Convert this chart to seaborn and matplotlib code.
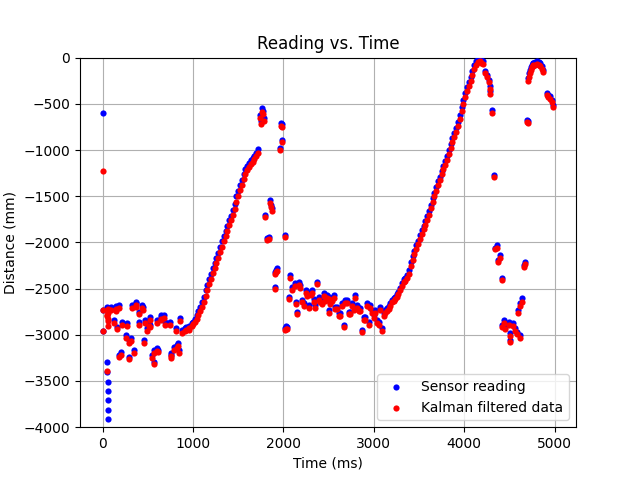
import numpy as np
import pandas as pd
import matplotlib
matplotlib.use("Agg")
import matplotlib.pyplot as plt
import seaborn as sns

# --- start transient ---
t_a = [0, 5, 10, 48, 52, 54, 56, 58, 60, 62, 64]
s_a = [-600, -2730, -2960, -2700, -3295, -3400, -3510, -3610, -3710, -3815, -3910]
k_a = [-1225, -2730, -2960, -2785, -2800, -3390, -2760, -2830, -2720, -2900, -2850]

# --- first plateau ---
t_b = [88, 125, 144, 150, 162, 180, 182, 199, 218, 254, 273, 291, 293, 310, 328, 346, 365, 372, 401, 403,
       438, 445, 457, 475, 493, 512, 520, 530, 549, 567, 569, 604, 606, 612, 641, 650, 677, 696, 751, 753,
       760, 788, 807, 825, 830, 843, 862, 880, 917, 925, 953, 960, 991]
s_b = [-2695, -2840, -2713, -2690, -2912, -2677, -3219, -3183, -2858, -3003, -2876, -3057, -3237, -3035, -2677, -3165, -2641, -2660, -2750, -2858,
       -2677, -2700, -3057, -2840, -2930, -2876, -2890, -2804, -3219, -3165, -3292, -2840, -3147, -3160, -2804, -2790, -2786, -2858, -2858, -3219,
       -3200, -3129, -2930, -3111, -3090, -3165, -2822, -2948, -2930, -2920, -2912, -2900, -2876]
k_b = [-2730, -2870, -2745, -2725, -2940, -2710, -3245, -3215, -2890, -3035, -2905, -3090, -3265, -3065, -2710, -3195, -2675, -2695, -2780, -2890,
       -2710, -2735, -3085, -2870, -2960, -2905, -2920, -2835, -3250, -3195, -3320, -2870, -3180, -3190, -2835, -2825, -2815, -2890, -2890, -3250,
       -3230, -3160, -2960, -3140, -3120, -3195, -2855, -2980, -2960, -2950, -2945, -2930, -2905]

# --- first rise ---
t_c = [1000, 1020, 1040, 1060, 1080, 1100, 1120, 1140, 1160, 1180, 1200, 1220, 1240, 1260, 1280, 1300, 1320, 1340, 1360,
       1380, 1400, 1420, 1440, 1460, 1480, 1500, 1520, 1540, 1560, 1580, 1600, 1620, 1640, 1660, 1680, 1700, 1720]
s_c = [-2860, -2830, -2790, -2740, -2700, -2650, -2590, -2520, -2460, -2400, -2340, -2280, -2220, -2170, -2110, -2050, -1990, -1930, -1880,
       -1820, -1760, -1710, -1650, -1580, -1500, -1440, -1380, -1320, -1260, -1210, -1170, -1140, -1110, -1090, -1060, -1030, -990]
k_c = [-2880, -2860, -2830, -2790, -2745, -2700, -2640, -2575, -2515, -2455, -2395, -2335, -2275, -2220, -2165, -2105, -2045, -1985, -1930,
       -1875, -1815, -1760, -1705, -1640, -1565, -1495, -1435, -1375, -1315, -1260, -1215, -1180, -1150, -1125, -1095, -1065, -1030]

# --- scattered readings near 2000 ms ---
t_d = [1746, 1755, 1764, 1775, 1782, 1801, 1819, 1838, 1856, 1866, 1875, 1904, 1912, 1922, 1930, 1967, 1978, 1985, 1990, 2014, 2022, 2030]
s_d = [-618, -690, -545, -580, -654, -1702, -1955, -1937, -1540, -1590, -1630, -2479, -2316, -2298, -2280, -979, -708, -889, -720, -1919, -2930, -2910]
k_d = [-650, -720, -590, -615, -690, -1725, -1975, -1960, -1575, -1620, -1660, -2500, -2340, -2320, -2310, -1005, -740, -915, -750, -1940, -2950, -2935]

# --- second plateau ---
t_e = [2040, 2059, 2077, 2100, 2133, 2140, 2151, 2170, 2188, 2205, 2224, 2245, 2262, 2280, 2300, 2317, 2335, 2354, 2372, 2390,
       2409, 2427, 2445, 2465, 2483, 2501, 2505, 2520, 2538, 2556, 2575, 2593, 2611, 2630, 2648, 2667, 2685, 2704, 2722, 2740,
       2759, 2778, 2796, 2814, 2832, 2851, 2869, 2887, 2906, 2924, 2942, 2961, 2980, 2998, 3017, 3035, 3053, 3072, 3090, 3108,
       3127, 3146, 3164, 3182, 3200, 3220, 3238, 3255, 3273, 3290, 3311]
s_e = [-2912, -2587, -2352, -2480, -2443, -2641, -2750, -2430, -2461, -2620, -2659, -2520, -2551, -2677, -2540, -2515, -2610, -2677, -2425, -2590,
       -2623, -2640, -2551, -2600, -2569, -2587, -2732, -2640, -2605, -2569, -2695, -2695, -2767, -2768, -2660, -2894, -2623, -2623, -2750, -2750,
       -2659, -2700, -2569, -2677, -2713, -2713, -2948, -2804, -2804, -2659, -2858, -2677, -2732, -2790, -2732, -2840, -2858, -2700, -2930, -2767,
       -2730, -2713, -2690, -2659, -2620, -2600, -2587, -2560, -2533, -2490, -2442]
k_e = [-2940, -2615, -2380, -2510, -2470, -2670, -2780, -2460, -2490, -2650, -2690, -2550, -2580, -2705, -2570, -2545, -2640, -2705, -2455, -2620,
       -2650, -2670, -2580, -2630, -2600, -2615, -2760, -2670, -2635, -2600, -2725, -2725, -2795, -2795, -2690, -2920, -2655, -2655, -2780, -2780,
       -2690, -2730, -2600, -2705, -2745, -2745, -2975, -2835, -2835, -2690, -2890, -2710, -2760, -2820, -2765, -2870, -2890, -2730, -2960, -2800,
       -2760, -2745, -2720, -2690, -2650, -2630, -2615, -2590, -2560, -2520, -2470]

# --- second rise ---
t_f = [3330, 3350, 3370, 3390, 3410, 3430, 3450, 3470, 3490, 3510, 3530, 3550, 3570, 3590, 3610, 3630, 3650, 3670, 3690, 3710,
       3730, 3750, 3770, 3790, 3810, 3830, 3850, 3870, 3890, 3910, 3930, 3950, 3970, 3990, 4010, 4030, 4050, 4070, 4090, 4110,
       4130, 4150, 4170, 4190, 4210]
s_f = [-2400, -2385, -2350, -2300, -2210, -2150, -2090, -2030, -1980, -1920, -1870, -1820, -1770, -1715, -1660, -1590, -1520, -1460, -1400, -1340,
       -1290, -1225, -1170, -1120, -1065, -1000, -940, -870, -815, -765, -700, -620, -540, -460, -385, -320, -265, -210, -150, -80,
       -40, -20, -15, -30, -40]
k_f = [-2430, -2420, -2385, -2340, -2250, -2190, -2130, -2070, -2020, -1960, -1910, -1860, -1810, -1755, -1700, -1630, -1560, -1500, -1440, -1380,
       -1330, -1265, -1210, -1160, -1105, -1040, -980, -910, -855, -805, -740, -660, -580, -500, -425, -360, -305, -250, -190, -120,
       -75, -50, -40, -55, -70]

# --- scattered readings after the peak ---
t_g = [4232, 4250, 4269, 4287, 4290, 4306, 4324, 4343, 4361, 4379, 4398, 4416, 4418, 4435, 4453, 4490, 4508, 4510, 4545, 4564,
       4582, 4600, 4619, 4621, 4637, 4660, 4674]
s_g = [-148, -184, -238, -311, -365, -564, -1268, -2063, -2027, -2190, -2136, -2388, -2894, -2840, -2912, -2858, -2984, -3057, -2876, -2930,
       -2966, -2732, -3003, -2659, -2605, -2244, -2208]
k_g = [-170, -210, -265, -340, -395, -600, -1290, -2075, -2060, -2215, -2165, -2410, -2920, -2870, -2940, -2890, -3010, -3080, -2905, -2960,
       -2990, -2760, -3030, -2690, -2640, -2270, -2235]

# --- final peak ---
t_h = [4693, 4700, 4711, 4720, 4729, 4740, 4748, 4757, 4766, 4785, 4803, 4822, 4840, 4858, 4876, 4913, 4930, 4950, 4968, 4987]
s_h = [-672, -690, -220, -170, -130, -100, -76, -60, -57, -45, -40, -45, -57, -94, -130, -383, -400, -419, -455, -509]
k_h = [-700, -710, -250, -205, -165, -130, -105, -90, -85, -75, -70, -80, -90, -125, -160, -410, -430, -450, -485, -530]

time_ms = t_a + t_b + t_c + t_d + t_e + t_f + t_g + t_h
sensor_mm = s_a + s_b + s_c + s_d + s_e + s_f + s_g + s_h
kalman_mm = k_a + k_b + k_c + k_d + k_e + k_f + k_g + k_h

df = pd.DataFrame({"time": time_ms, "sensor": sensor_mm, "kalman": kalman_mm})

fig, ax = plt.subplots(figsize=(6.4, 4.8), dpi=100)
sns.scatterplot(data=df, x="time", y="sensor", ax=ax, color="blue", s=20,
                linewidth=0, label="Sensor reading", zorder=3)
sns.scatterplot(data=df, x="time", y="kalman", ax=ax, color="red", s=20,
                linewidth=0, label="Kalman filtered data", zorder=4)

ax.set_ylim(-4000, 0)
ax.set_title("Reading vs. Time")
ax.set_xlabel("Time (ms)")
ax.set_ylabel("Distance (mm)")
ax.grid(True)
ax.set_axisbelow(True)
ax.legend(loc="lower right")
fig.savefig("out.png", dpi=100)
